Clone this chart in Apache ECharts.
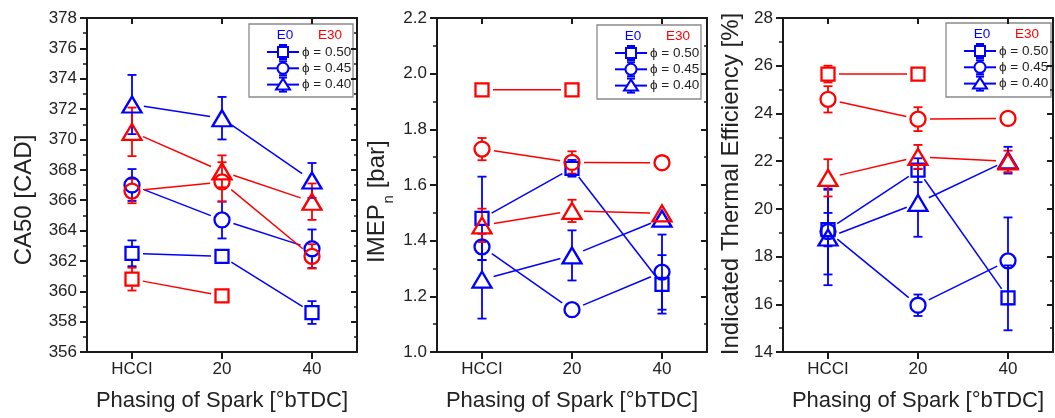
<!DOCTYPE html>
<html><head><meta charset="utf-8">
<script src="https://cdn.jsdelivr.net/npm/echarts@6/dist/echarts.min.js"></script>
<style>html,body{margin:0;padding:0;background:#fff}#c{width:1055px;height:418px}</style>
</head><body><div id="c"></div>
<script>
// ---------- data ----------
const categories = ['HCCI', '20', '40'];
const ca50Ticks = [356, 358, 360, 362, 364, 366, 368, 370, 372, 374, 376, 378];
const imepTicks = [1.0, 1.2, 1.4, 1.6, 1.8, 2.0, 2.2];
const iteTicks = [14, 16, 18, 20, 22, 24, 26, 28];
const legendLabels = ['\u03d5 = 0.50', '\u03d5 = 0.45', '\u03d5 = 0.40'];

// CA50 [CAD]
const ca50E0phi050 = [362.5, 362.3, 358.6];
const ca50E0phi050Err = [0.85, 0.3, 0.75];
const ca50E0phi045 = [367.0, 364.7, 362.8];
const ca50E0phi045Err = [1.05, 1.22, 1.27];
const ca50E0phi040 = [372.3, 371.4, 367.3];
const ca50E0phi040Err = [1.95, 1.4, 1.15];
const ca50E30phi050 = [360.8, 359.7, null];
const ca50E30phi050Err = [0.75, 0.2, null];
const ca50E30phi045 = [366.6, 367.2, 362.3];
const ca50E30phi045Err = [0.8, 1.3, 0.8];
const ca50E30phi040 = [370.5, 367.9, 365.9];
const ca50E30phi040Err = [1.6, 1.05, 1.2];

// IMEPn [bar]
const imepE0phi050 = [1.48, 1.66, 1.243];
const imepE0phi050Err = [0.15, 0.03, 0.105];
const imepE0phi045 = [1.378, 1.152, 1.287];
const imepE0phi045Err = [0.047, 0.03, 0.135];
const imepE0phi040 = [1.26, 1.347, 1.479];
const imepE0phi040Err = [0.14, 0.09, 0.02];
const imepE30phi050 = [1.942, 1.942, null];
const imepE30phi050Err = [0.015, 0.005, null];
const imepE30phi045 = [1.729, 1.681, 1.68];
const imepE30phi045Err = [0.04, 0.04, 0.01];
const imepE30phi040 = [1.455, 1.507, 1.498];
const imepE30phi040Err = [0.06, 0.04, 0.025];

// Indicated Thermal Efficiency [%]
const iteE0phi050 = [19.13, 21.62, 16.27];
const iteE0phi050Err = [0.7, 0.5, 1.36];
const iteE0phi045 = [19.05, 15.96, 17.82];
const iteE0phi045Err = [1.8, 0.45, 1.82];
const iteE0phi040 = [18.8, 20.25, 22.04];
const iteE0phi040Err = [2.0, 1.42, 0.56];
const iteE30phi050 = [25.65, 25.65, null];
const iteE30phi050Err = [0.35, 0.15, null];
const iteE30phi045 = [24.59, 23.76, 23.79];
const iteE30phi045Err = [0.55, 0.5, 0.25];
const iteE30phi040 = [21.3, 22.18, 21.99];
const iteE30phi040Err = [0.78, 0.5, 0.45];

// ---------- style ----------
const BLUE = '#0000ff', RED = '#ff0000', INK = '#1a1a1a';
const FONT = '"Liberation Sans", Arial, sans-serif';
const SYM = {
  square: { symbol: 'rect', size: 13, r: 7 },
  circle: { symbol: 'circle', size: 15, r: 8 },
  triangle: { symbol: 'triangle', size: [19, 16], r: 8 }
};

function segRender(color, gap) {
  return function (params, api) {
    const p1 = api.coord([api.value(0), api.value(1)]);
    const p2 = api.coord([api.value(2), api.value(3)]);
    const dx = p2[0] - p1[0], dy = p2[1] - p1[1];
    const L = Math.hypot(dx, dy) || 1;
    const ux = dx / L, uy = dy / L;
    return {
      type: 'line',
      shape: { x1: p1[0] + ux * gap, y1: p1[1] + uy * gap, x2: p2[0] - ux * gap, y2: p2[1] - uy * gap },
      style: { stroke: color, lineWidth: 1.5 }
    };
  };
}
function errRender(color, r) {
  return function (params, api) {
    const i = api.value(0), v = api.value(1), e = api.value(2);
    const c = api.coord([i, v]);
    const t = api.coord([i, v + e])[1];
    const b = api.coord([i, v - e])[1];
    const x = c[0], cw = 4.5;
    const st = { stroke: color, lineWidth: 1.8 };
    const ch = [];
    if (c[1] - r > t + 0.5) {
      ch.push({ type: 'line', shape: { x1: x, y1: t, x2: x, y2: c[1] - r }, style: st });
      ch.push({ type: 'line', shape: { x1: x - cw, y1: t, x2: x + cw, y2: t }, style: st });
    }
    if (b > c[1] + r + 0.5) {
      ch.push({ type: 'line', shape: { x1: x, y1: c[1] + r, x2: x, y2: b }, style: st });
      ch.push({ type: 'line', shape: { x1: x - cw, y1: b, x2: x + cw, y2: b }, style: st });
    }
    return { type: 'group', children: ch };
  };
}

const panels = [
  { ticks: ca50Ticks, dec: 0, left: 87, groups: [
    [ca50E0phi050, ca50E0phi050Err, BLUE, 'square'],
    [ca50E0phi045, ca50E0phi045Err, BLUE, 'circle'],
    [ca50E0phi040, ca50E0phi040Err, BLUE, 'triangle'],
    [ca50E30phi050, ca50E30phi050Err, RED, 'square'],
    [ca50E30phi045, ca50E30phi045Err, RED, 'circle'],
    [ca50E30phi040, ca50E30phi040Err, RED, 'triangle']]},
  { ticks: imepTicks, dec: 1, left: 437, groups: [
    [imepE0phi050, imepE0phi050Err, BLUE, 'square'],
    [imepE0phi045, imepE0phi045Err, BLUE, 'circle'],
    [imepE0phi040, imepE0phi040Err, BLUE, 'triangle'],
    [imepE30phi050, imepE30phi050Err, RED, 'square'],
    [imepE30phi045, imepE30phi045Err, RED, 'circle'],
    [imepE30phi040, imepE30phi040Err, RED, 'triangle']]},
  { ticks: iteTicks, dec: 0, left: 783, groups: [
    [iteE0phi050, iteE0phi050Err, BLUE, 'square'],
    [iteE0phi045, iteE0phi045Err, BLUE, 'circle'],
    [iteE0phi040, iteE0phi040Err, BLUE, 'triangle'],
    [iteE30phi050, iteE30phi050Err, RED, 'square'],
    [iteE30phi045, iteE30phi045Err, RED, 'circle'],
    [iteE30phi040, iteE30phi040Err, RED, 'triangle']]}
];

const grid = [], xAxis = [], yAxis = [], series = [];
const axisLine = { show: true, onZero: false, lineStyle: { color: INK, width: 2 } };
panels.forEach(function (p, k) {
  grid.push({ left: p.left, top: 18, width: 270, height: 334 });
  const mn = p.ticks[0], mx = p.ticks[p.ticks.length - 1];
  const iv = +(p.ticks[1] - p.ticks[0]).toFixed(6);
  xAxis.push({
    type: 'category', gridIndex: k, data: categories, position: 'bottom', boundaryGap: true,
    axisLine: axisLine,
    axisTick: { show: true, alignWithLabel: true, length: 7, lineStyle: { color: INK, width: 2 } },
    axisLabel: { fontSize: 17, color: '#222', fontFamily: FONT, margin: 9 },
    splitLine: { show: false },
    name: 'Phasing of Spark [\u00b0bTDC]', nameLocation: 'middle', nameGap: 38,
    nameTextStyle: { fontSize: 22, color: '#222', fontFamily: FONT }
  });
  xAxis.push({
    type: 'category', gridIndex: k, data: categories, position: 'top', boundaryGap: true,
    axisLine: axisLine,
    axisTick: { show: true, inside: true, alignWithLabel: true, length: 6, lineStyle: { color: INK, width: 2 } },
    axisLabel: { show: false }, splitLine: { show: false }
  });
  yAxis.push({
    type: 'value', gridIndex: k, min: mn, max: mx, interval: iv, position: 'left',
    axisLine: axisLine,
    axisTick: { show: true, length: 7, lineStyle: { color: INK, width: 2 } },
    minorTick: { show: true, splitNumber: 2, length: 4, lineStyle: { color: INK, width: 1.5 } },
    axisLabel: { fontSize: 17, color: '#222', fontFamily: FONT, margin: 10,
      formatter: function (v) { return v.toFixed(p.dec); } },
    splitLine: { show: false }, minorSplitLine: { show: false }
  });
  yAxis.push({
    type: 'value', gridIndex: k, min: mn, max: mx, interval: iv, position: 'right',
    axisLine: axisLine,
    axisTick: { show: true, inside: true, length: 6, lineStyle: { color: INK, width: 2 } },
    minorTick: { show: true, splitNumber: 2, length: 3, lineStyle: { color: INK, width: 1.5 } },
    axisLabel: { show: false }, splitLine: { show: false }
  });
  p.groups.forEach(function (g) {
    const vals = g[0], errs = g[1], color = g[2], sym = SYM[g[3]];
    const segs = [];
    for (let i = 0; i < vals.length - 1; i++) {
      if (vals[i] != null && vals[i + 1] != null) segs.push([i, vals[i], i + 1, vals[i + 1]]);
    }
    const ebars = [], pts = [];
    vals.forEach(function (v, i) {
      if (v != null) { ebars.push([i, v, errs[i]]); pts.push([i, v]); }
    });
    series.push({ type: 'custom', xAxisIndex: 2 * k, yAxisIndex: 2 * k, data: segs,
      encode: { x: 0, y: 1 }, renderItem: segRender(color, sym.r + 4), silent: true, clip: false });
    series.push({ type: 'custom', xAxisIndex: 2 * k, yAxisIndex: 2 * k, data: ebars,
      encode: { x: 0, y: 1 }, renderItem: errRender(color, sym.r), silent: true, clip: false });
    series.push({ type: 'scatter', xAxisIndex: 2 * k, yAxisIndex: 2 * k, data: pts,
      symbol: sym.symbol, symbolSize: sym.size, silent: true,
      itemStyle: { color: 'rgba(255,255,255,0)', borderColor: color, borderWidth: 2.3, opacity: 1 } });
  });
});

// ---------- legends (graphic) ----------
function legendBox(x, y, w, h) {
  const ch = [
    { type: 'rect', shape: { x: 0, y: 0, width: w, height: h }, style: { fill: '#fff', stroke: '#8a8a8a', lineWidth: 1.3 } },
    { type: 'text', x: 36, y: 11, style: { text: 'E0', fill: BLUE, fontSize: 13.5, fontFamily: FONT, align: 'center', verticalAlign: 'middle' } },
    { type: 'text', x: 81, y: 11, style: { text: 'E30', fill: RED, fontSize: 13.5, fontFamily: FONT, align: 'center', verticalAlign: 'middle' } }
  ];
  const shapes = ['square', 'circle', 'triangle'];
  const st = { stroke: BLUE, lineWidth: 2, fill: null };
  legendLabels.forEach(function (lab, i) {
    const cy = 28 + i * 16.3, cx = 34;
    ch.push({ type: 'line', shape: { x1: 18, y1: cy, x2: 50, y2: cy }, style: st });
    ch.push({ type: 'line', shape: { x1: cx, y1: cy - 7, x2: cx, y2: cy + 7 }, style: st });
    ch.push({ type: 'line', shape: { x1: cx - 4, y1: cy - 7, x2: cx + 4, y2: cy - 7 }, style: st });
    ch.push({ type: 'line', shape: { x1: cx - 4, y1: cy + 7, x2: cx + 4, y2: cy + 7 }, style: st });
    const ms = { stroke: BLUE, lineWidth: 2, fill: '#fff' };
    if (shapes[i] === 'square') ch.push({ type: 'rect', shape: { x: cx - 5, y: cy - 5, width: 10, height: 10 }, style: ms });
    if (shapes[i] === 'circle') ch.push({ type: 'circle', shape: { cx: cx, cy: cy, r: 5.5 }, style: ms });
    if (shapes[i] === 'triangle') ch.push({ type: 'polygon', shape: { points: [[cx, cy - 6], [cx + 7, cy + 5], [cx - 7, cy + 5]] }, style: ms });
    ch.push({ type: 'text', x: 53, y: cy, style: { text: lab, fill: '#222', fontSize: 13.5, fontFamily: FONT, align: 'left', verticalAlign: 'middle' } });
  });
  return { type: 'group', x: x, y: y, z: 100, children: ch };
}

const graphic = [
  legendBox(249, 24, 104, 73),
  legendBox(597, 25, 104, 74),
  legendBox(946, 23, 105, 74),
  { type: 'text', x: 24, y: 200, rotation: Math.PI / 2,
    style: { text: 'CA50 [CAD]', fill: '#222', fontSize: 24, fontFamily: FONT, align: 'center', verticalAlign: 'middle' } },
  { type: 'group', x: 377, y: 203, rotation: Math.PI / 2, children: [
    { type: 'text', x: -60, y: 0, style: { text: 'IMEP', fill: '#222', fontSize: 24, fontFamily: FONT, align: 'left', verticalAlign: 'middle' } },
    { type: 'text', x: -0.5, y: 12, style: { text: 'n', fill: '#222', fontSize: 15, fontFamily: FONT, align: 'left', verticalAlign: 'middle' } },
    { type: 'text', x: 8, y: 0, style: { text: ' [bar]', fill: '#222', fontSize: 24, fontFamily: FONT, align: 'left', verticalAlign: 'middle' } }
  ]},
  { type: 'text', x: 731, y: 184, rotation: Math.PI / 2,
    style: { text: 'Indicated Thermal Efficiency [%]', fill: '#222', fontSize: 24, fontFamily: FONT, align: 'center', verticalAlign: 'middle' } }
];

const chart = echarts.init(document.getElementById('c'), null, { renderer: 'canvas' });
chart.setOption({
  animation: false,
  backgroundColor: '#fff',
  textStyle: { fontFamily: FONT },
  grid: grid, xAxis: xAxis, yAxis: yAxis, series: series, graphic: graphic
});
</script>
</body></html>
